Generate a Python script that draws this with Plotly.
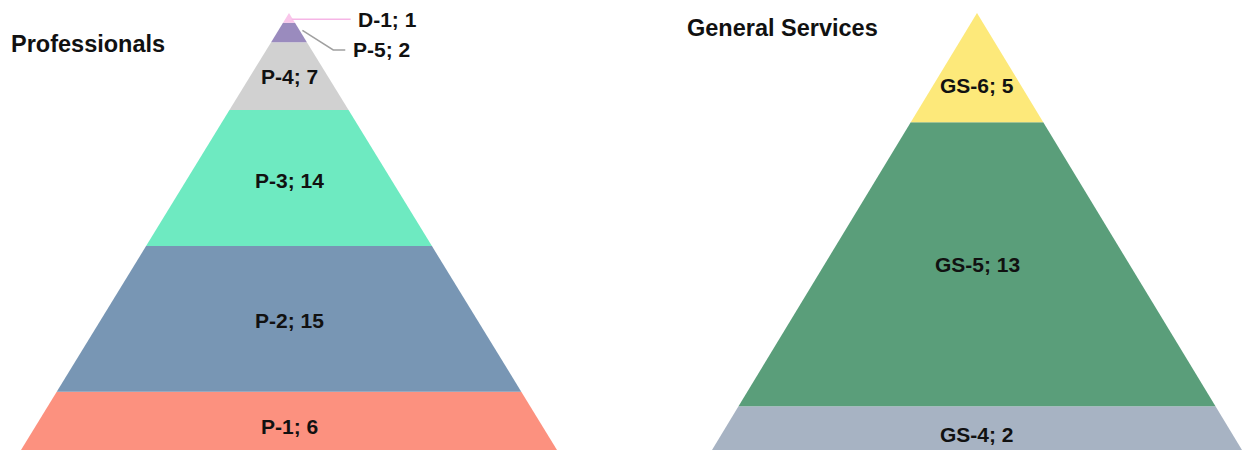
import plotly.graph_objects as go

# ---- data ----
prof_labels = ["P-1", "P-2", "P-3", "P-4", "P-5", "D-1"]
prof_values = [6, 15, 14, 7, 2, 1]
prof_colors = ["#FC917F", "#7896B4", "#6EEAC1", "#D1D1D1", "#9A8BBE", "#F9C6EA"]

gs_labels = ["GS-4", "GS-5", "GS-6"]
gs_values = [2, 13, 5]
gs_colors = ["#A7B3C3", "#5A9E7A", "#FDE97A"]

FONT = "Liberation Sans"
LABEL_FONT = dict(family=FONT, size=21, color="#111111")

fig = go.Figure()


def add_pyramid(labels, values, colors, xa, ya, outside=(), label_shift=None):
    total = sum(values)
    cum = 0
    for lab, v, col in zip(labels, values, colors):
        b, t = cum, cum + v
        wb, wt = 1 - b / total, 1 - t / total
        fig.add_trace(go.Scatter(
            x=[-wb, wb, wt, -wt, -wb], y=[b, b, t, t, b],
            fill="toself", fillcolor=col, mode="lines",
            line=dict(width=0, color=col), hoverinfo="skip",
            showlegend=False, xaxis=xa, yaxis=ya))
        cum = t
        if lab in outside:
            continue
        if t >= total:  # top triangle: label at 2/3 from apex
            ym = b + (t - b) / 3
        else:
            ym = (b + t) / 2
        fig.add_annotation(x=0, y=ym, xref=xa, yref=ya, text=f"<b>{lab}; {v}</b>",
                           showarrow=False, yshift=(label_shift or {}).get(lab, 0),
                           font=LABEL_FONT)
    return total


# Professionals pyramid
ptotal = add_pyramid(prof_labels, prof_values, prof_colors, "x", "y",
                     outside=("P-5", "D-1"),
                     label_shift={"P-1": -6, "P-3": -2, "P-2": -2})

d1_mid = ptotal - prof_values[-1] / 2
p5_mid = ptotal - prof_values[-1] - prof_values[-2] / 2

# D-1 leader (horizontal) and label
fig.add_trace(go.Scatter(x=[0.01, 0.23], y=[d1_mid - 0.15, d1_mid - 0.15], mode="lines",
                         line=dict(color="#F6B5E6", width=1.5), hoverinfo="skip",
                         showlegend=False, xaxis="x", yaxis="y"))
fig.add_annotation(x=0.25, y=d1_mid - 0.15, xref="x", yref="y", text="<b>D-1; 1</b>",
                   xanchor="left", showarrow=False, font=LABEL_FONT)

# P-5 leader (bent) and label
fig.add_trace(go.Scatter(x=[0.05, 0.165, 0.21], y=[p5_mid + 0.2, ptotal - 3.8, ptotal - 3.8],
                         mode="lines", line=dict(color="#A0A0A0", width=1.5), hoverinfo="skip",
                         showlegend=False, xaxis="x", yaxis="y"))
fig.add_annotation(x=0.23, y=ptotal - 3.8, xref="x", yref="y", text="<b>P-5; 2</b>",
                   xanchor="left", showarrow=False, font=LABEL_FONT)

# General Services pyramid
gtotal = add_pyramid(gs_labels, gs_values, gs_colors, "x2", "y2",
                     label_shift={"GS-4": -6})

# Titles (paper coordinates)
fig.add_annotation(x=9 / 1250, y=1 - 44 / 450, xref="paper", yref="paper",
                   text="<b>Professionals</b>", xanchor="left", yanchor="middle",
                   showarrow=False, font=dict(family=FONT, size=23.5, color="#111111"))
fig.add_annotation(x=685 / 1250, y=1 - 28 / 450, xref="paper", yref="paper",
                   text="<b>General Services</b>", xanchor="left", yanchor="middle",
                   showarrow=False, font=dict(family=FONT, size=23.5, color="#111111"))

apex_frac = 1 - 13 / 450
ax_common = dict(showgrid=False, zeroline=False, showticklabels=False, ticks="",
                 showline=False, fixedrange=True)
fig.update_layout(
    width=1250, height=450,
    margin=dict(l=0, r=0, t=0, b=0),
    paper_bgcolor="white", plot_bgcolor="rgba(0,0,0,0)",
    xaxis=dict(domain=[21 / 1250, 557 / 1250], range=[-1, 1], **ax_common),
    yaxis=dict(domain=[0, apex_frac], range=[0, ptotal], **ax_common),
    xaxis2=dict(domain=[712 / 1250, 1242 / 1250], range=[-1, 1], anchor="y2", **ax_common),
    yaxis2=dict(domain=[0, apex_frac], range=[0, gtotal], anchor="x2", **ax_common),
    font=dict(family=FONT),
)

fig.write_html("out.html")
